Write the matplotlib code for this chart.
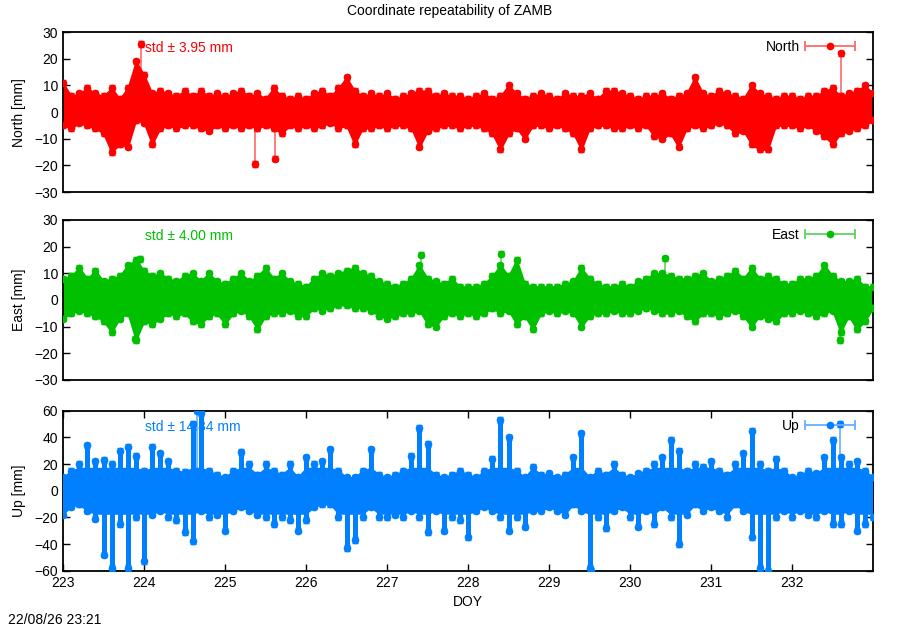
import numpy as np
import matplotlib
matplotlib.use('Agg')
import matplotlib.pyplot as plt
from matplotlib.lines import Line2D
from matplotlib.legend_handler import HandlerBase

plt.rcParams['font.family'] = ['Liberation Sans', 'DejaVu Sans']
plt.rcParams['font.size'] = 10

# time grid (day of year), envelope of the points
doy = np.round(np.arange(223.0, 233.01, 0.1), 1)

north_hi = [11, 6, 7, 9, 7, 6, 9, 5, 9, 19,
            14, 7, 8, 7, 6, 8, 6, 8, 6, 7,
            6, 7, 8, 6, 7, 5, 9, 6, 5, 6,
            5, 7, 8, 6, 9, 13, 8, 6, 7, 6,
            7, 5, 6, 7, 8, 8, 6, 7, 6, 6,
            5, 6, 7, 5, 6, 10, 7, 5, 6, 7,
            6, 5, 7, 6, 6, 7, 5, 8, 8, 7,
            6, 5, 6, 6, 7, 5, 6, 7, 13, 7,
            6, 8, 7, 6, 5, 10, 7, 6, 5, 6,
            6, 5, 6, 6, 8, 9, 6, 7, 8, 10, 7]
north_lo = [-5, -6, -4, -5, -6, -8, -15, -12, -13, -3,
            -4, -12, -6, -5, -6, -5, -5, -6, -7, -5,
            -6, -5, -6, -5, -6, -5, -6, -8, -5, -6,
            -5, -6, -5, -4, -6, -5, -12, -6, -6, -5,
            -6, -5, -5, -6, -13, -7, -6, -5, -5, -6,
            -5, -5, -6, -8, -14, -8, -6, -10, -5, -5,
            -6, -5, -6, -8, -14, -6, -5, -5, -6, -6,
            -5, -6, -5, -9, -10, -8, -13, -6, -5, -6,
            -5, -4, -5, -8, -7, -12, -14, -14, -5, -5,
            -5, -6, -5, -7, -9, -12, -8, -7, -6, -5, -3]
north_spike_doy = [223.96, 225.37, 225.62, 232.60]
north_spike_val = [25.5, -19.5, -17.4, 22.0]

east_hi = [8, 9, 12, 8, 11, 7, 8, 9, 13, 15,
           11, 9, 10, 8, 7, 9, 10, 7, 10, 7,
           6, 8, 10, 7, 9, 12, 8, 10, 7, 6,
           5, 8, 10, 9, 10, 11, 12, 10, 9, 7,
           6, 5, 6, 8, 13, 8, 7, 6, 8, 5,
           5, 5, 6, 9, 13, 9, 15, 6, 5, 5,
           5, 5, 6, 7, 12, 8, 6, 5, 5, 6,
           5, 7, 8, 10, 10, 9, 8, 8, 9, 10,
           7, 8, 9, 11, 8, 12, 8, 9, 8, 6,
           6, 8, 8, 9, 13, 9, 7, 7, 8, 5, 5]
east_lo = [-7, -5, -4, -5, -6, -8, -12, -7, -5, -15,
           -8, -9, -7, -5, -6, -5, -8, -9, -6, -5,
           -9, -5, -4, -6, -11, -6, -5, -5, -4, -6,
           -6, -3, -4, -3, -2, -2, -3, -3, -4, -6,
           -7, -6, -5, -5, -4, -9, -10, -6, -5, -6,
           -5, -6, -5, -3, -5, -4, -9, -6, -11, -5,
           -4, -5, -4, -5, -10, -6, -5, -5, -4, -5,
           -5, -4, -3, -4, -5, -5, -4, -6, -8, -5,
           -5, -6, -5, -4, -6, -10, -6, -7, -8, -5,
           -5, -4, -5, -6, -5, -4, -12, -6, -11, -8, -3]
east_spike_doy = [223.89, 223.95, 227.42, 228.41, 230.43, 232.59]
east_spike_val = [-14.6, 15.3, 17.0, 17.3, 15.6, -15.0]

up_hi = [10, 15, 20, 34, 22, 23, 20, 30, 33, 26,
         15, 33, 28, 22, 15, 14, 50, 58, 15, 12,
         10, 15, 29, 20, 12, 20, 15, 12, 20, 10,
         25, 20, 22, 31, 15, 10, 10, 15, 31, 12,
         10, 12, 15, 26, 47, 35, 12, 10, 12, 15,
         12, 10, 15, 24, 53, 40, 15, 10, 18, 12,
         13, 10, 12, 25, 43, 10, 15, 12, 20, 12,
         10, 13, 15, 20, 25, 38, 30, 15, 20, 18,
         22, 15, 12, 20, 28, 45, 20, 15, 24, 15,
         10, 12, 15, 13, 25, 38, 25, 20, 22, 15, 10]
up_lo = [-18, -12, -10, -15, -21, -48, -58, -25, -58, -20,
         -53, -18, -15, -20, -22, -31, -38, -15, -20, -18,
         -30, -15, -12, -15, -18, -20, -25, -20, -22, -30,
         -22, -12, -10, -10, -20, -43, -37, -20, -12, -20,
         -20, -18, -20, -15, -20, -31, -15, -30, -20, -22,
         -35, -15, -12, -15, -20, -30, -20, -27, -15, -15,
         -12, -15, -18, -10, -15, -58, -20, -28, -15, -12,
         -20, -27, -15, -25, -12, -20, -40, -18, -10, -15,
         -12, -15, -20, -10, -15, -35, -58, -60, -20, -15,
         -20, -15, -18, -20, -15, -25, -25, -15, -30, -25, -20]
up_spike_doy = [224.65, 229.52, 232.59]
up_spike_val = [60.0, -60.0, 50.0]

names = ['North', 'East', 'Up']
stds = ['3.95', '4.00', '14.84']
colors = ['#ff0000', '#00c000', '#0080ff']
lights = ['#ff6a6a', '#5fd35f', '#66b0ff']
limits = [30, 30, 60]
steps = [10, 10, 20]
# dense cloud half-width; beyond it the points trail off in thin strings
cores = [30, 30, 17]
his = [north_hi, east_hi, up_hi]
los = [north_lo, east_lo, up_lo]
sp_doys = [north_spike_doy, east_spike_doy, up_spike_doy]
sp_vals = [north_spike_val, east_spike_val, up_spike_val]


# gnuplot-like key sample: horizontal bar with end caps and a dot
class KeySample(HandlerBase):
    def __init__(self, color, light):
        super().__init__()
        self.color = color
        self.light = light

    def create_artists(self, legend, orig_handle, xdescent, ydescent,
                       width, height, fontsize, trans):
        y = height / 2 - ydescent
        x0, x1 = -xdescent, -xdescent + width
        bar = Line2D([x0, x1], [y, y], color=self.light, lw=1.3)
        caps = Line2D([x0, x1], [y, y], ls='none', marker='|', ms=7,
                      mew=1.3, color=self.light)
        dot = Line2D([(x0 + x1) / 2], [y], ls='none', marker='o', ms=4.5,
                     color=self.color)
        for a in (bar, caps, dot):
            a.set_transform(trans)
        return [bar, caps, dot]


fig = plt.figure(figsize=(9, 6.3), dpi=100)
bottoms = [0.695, 0.397, 0.094]

for i in range(3):
    ax = fig.add_axes([0.07, bottoms[i], 0.9, 0.254])
    hi = np.array(his[i], dtype=float)
    lo = np.array(los[i], dtype=float)
    c = colors[i]
    lc = lights[i]
    eb = limits[i] / 30.0

    ax.axhline(0, color='black', lw=0.8, zorder=1)
    # isolated outliers: long error bars first, hidden behind the cloud
    ax.vlines(sp_doys[i], 0, sp_vals[i], color=lc, lw=1.2, zorder=1.5)
    ax.fill_between(doy, np.maximum(lo, -cores[i]), np.minimum(hi, cores[i]),
                    color=c, lw=1.2, zorder=2)
    if cores[i] < limits[i]:
        ax.vlines(doy, lo, hi, color=c, lw=3.6, zorder=3)
    for edge in (hi, lo):
        ax.errorbar(doy, edge, yerr=eb, fmt='o', ms=4.5, color=c, ecolor=c,
                    elinewidth=1, capsize=2, zorder=4)
    ax.errorbar(sp_doys[i], sp_vals[i], yerr=eb, fmt='o', ms=4.5, color=c,
                ecolor=c, elinewidth=1, capsize=2, zorder=4)

    key = Line2D([], [], color=c, label=names[i])
    ax.legend(handles=[key], handler_map={key: KeySample(c, lc)},
              loc='upper right', bbox_to_anchor=(0.978, 0.95),
              frameon=False, markerfirst=False, handlelength=3.6,
              handletextpad=0.4, borderaxespad=0, borderpad=0, fontsize=10)

    ax.text(0.101, 0.9, 'std \u00b1 ' + stds[i] + ' mm', color=c,
            transform=ax.transAxes, ha='left', va='center', fontsize=10)

    ax.set_xlim(223, 233)
    ax.set_ylim(-limits[i], limits[i])
    ax.set_yticks(np.arange(-limits[i], limits[i] + 1, steps[i]))
    ax.set_ylabel(names[i] + ' [mm]', labelpad=6)
    ax.tick_params(axis='y', direction='in', right=True, length=5, width=1)
    if i < 2:
        ax.set_xticks([])
    else:
        ax.set_xticks(np.arange(223, 233))
        ax.tick_params(axis='x', direction='in', top=True, length=5, width=1)
        ax.set_xlabel('DOY', labelpad=4)
    for s in ax.spines.values():
        s.set_linewidth(1.3)

fig.suptitle('Coordinate repeatability of ZAMB', y=0.993, fontsize=10)
fig.text(0.009, 0.01, '22/08/26 23:21', fontsize=10)

fig.savefig('out.png', dpi=100)
